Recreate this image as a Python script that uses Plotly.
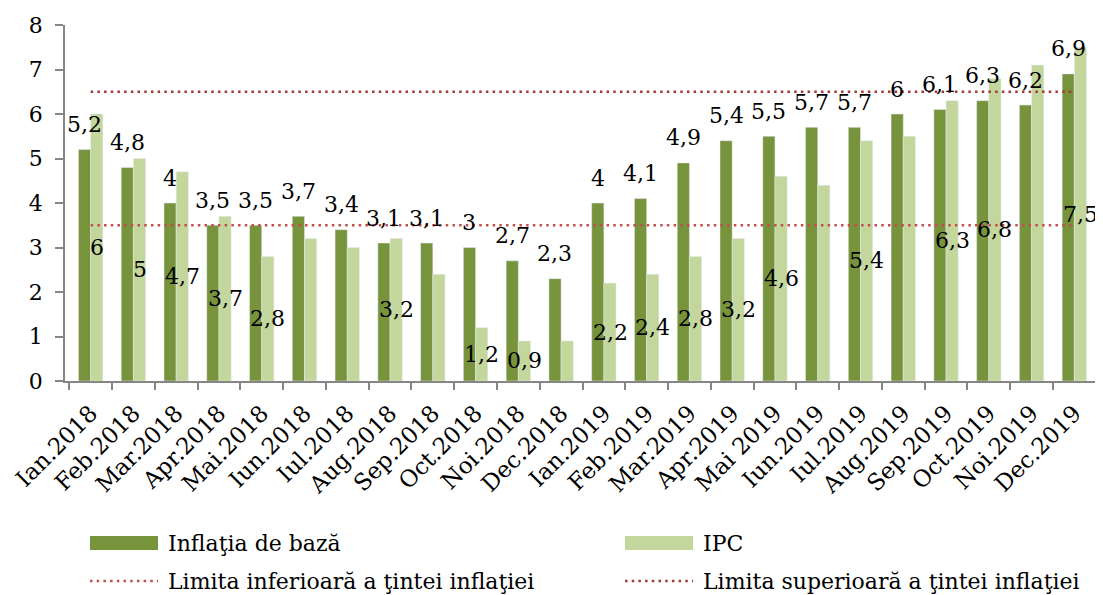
import plotly.graph_objects as go

categories = ["Ian.2018", "Feb.2018", "Mar.2018", "Apr.2018", "Mai.2018", "Iun.2018",
              "Iul.2018", "Aug.2018", "Sep.2018", "Oct.2018", "Noi.2018", "Dec.2018",
              "Ian.2019", "Feb.2019", "Mar.2019", "Apr.2019", "Mai 2019", "Iun.2019",
              "Iul.2019", "Aug.2019", "Sep.2019", "Oct.2019", "Noi.2019", "Dec.2019"]
inflatia_baza = [5.2, 4.8, 4.0, 3.5, 3.5, 3.7, 3.4, 3.1, 3.1, 3.0, 2.7, 2.3,
                 4.0, 4.1, 4.9, 5.4, 5.5, 5.7, 5.7, 6.0, 6.1, 6.3, 6.2, 6.9]
ipc = [6.0, 5.0, 4.7, 3.7, 2.8, 3.2, 3.0, 3.2, 2.4, 1.2, 0.9, 0.9,
       2.2, 2.4, 2.8, 3.2, 4.6, 4.4, 5.4, 5.5, 6.3, 6.8, 7.1, 7.5]
ipc_label_shown = [True, True, True, True, True, False, False, True, False, True, True, False,
                   True, True, True, True, True, False, True, False, True, True, False, True]
limita_inferioara = 3.5
limita_superioara = 6.5

names = ["Inflaţia de bază", "IPC", "Limita inferioară a ţintei inflaţiei",
         "Limita superioară a ţintei inflaţiei"]

DARK = "#77933C"
LIGHT = "#C3D69B"
RED_LOW = "#C0504D"
RED_HIGH = "#A23B38"
FONT = "DejaVu Serif"

# page body has an 8px margin: the figure starts at (8, 8) in the window
OFF = 8
W, H = 1103 - OFF, 595 - OFF
L, R, T, B = 65 - OFF, 3, 25 - OFF, 214
PW, PH = W - L - R, H - T - B


def fmt(v):
    s = ("%.1f" % v).rstrip("0").rstrip(".")
    return s.replace(".", ",")


fig = go.Figure()
fig.add_trace(go.Bar(x=categories, y=inflatia_baza, name=names[0], marker_color=DARK,
                     showlegend=False))
fig.add_trace(go.Bar(x=categories, y=ipc, name=names[1], marker_color=LIGHT,
                     showlegend=False))
fig.add_trace(go.Scatter(x=categories, y=[limita_inferioara] * len(categories), name=names[2],
                         mode="lines", line=dict(color=RED_LOW, width=2.5, dash="2.5px,4.2px"),
                         showlegend=False))
fig.add_trace(go.Scatter(x=categories, y=[limita_superioara] * len(categories), name=names[3],
                         mode="lines", line=dict(color=RED_HIGH, width=2.5, dash="2.5px,4.2px"),
                         showlegend=False))

bar_px = PW / len(categories) * (1 - 0.43) / 2
annotations = []
for c, v in zip(categories, inflatia_baza):
    annotations.append(dict(x=c, y=v, text=fmt(v), showarrow=False, xshift=-bar_px / 2,
                            yshift=25, yanchor="middle",
                            font=dict(family=FONT, size=22, color="#000000")))
for c, v, show in zip(categories, ipc, ipc_label_shown):
    if show:
        annotations.append(dict(x=c, y=v / 2, text=fmt(v), showarrow=False, xshift=bar_px / 2,
                                yanchor="middle",
                                font=dict(family=FONT, size=22, color="#000000")))


def px(x):
    return (x - OFF - L) / PW


def py(y):
    return (H - B - (y - OFF)) / PH


shapes = []
legend_items = [
    (90, 543, "rect", DARK, names[0]),
    (625, 543, "rect", LIGHT, names[1]),
    (90, 581, "line", RED_LOW, names[2]),
    (625, 581, "line", RED_HIGH, names[3]),
]
for x0, yc, kind, col, label in legend_items:
    if kind == "rect":
        shapes.append(dict(type="rect", xref="paper", yref="paper", x0=px(x0), x1=px(x0 + 68),
                           y0=py(yc - 7), y1=py(yc + 7), fillcolor=col, line=dict(width=0)))
    else:
        shapes.append(dict(type="line", xref="paper", yref="paper", x0=px(x0), x1=px(x0 + 68),
                           y0=py(yc), y1=py(yc),
                           line=dict(color=col, width=2.5, dash="2.5px,4.2px")))
    annotations.append(dict(xref="paper", yref="paper", x=px(x0 + 76), y=py(yc), text=label,
                            showarrow=False, xanchor="left", yanchor="middle",
                            font=dict(family=FONT, size=22, color="#000000")))

fig.update_layout(
    width=W, height=H,
    margin=dict(l=L, r=R, t=T, b=B, autoexpand=False),
    barmode="group", bargap=0.43, bargroupgap=0,
    plot_bgcolor="white", paper_bgcolor="white",
    font=dict(family=FONT, size=22, color="#000000"),
    showlegend=False,
    annotations=annotations,
    shapes=shapes,
    xaxis=dict(type="category", tickangle=-45, tickson="boundaries", ticks="outside",
               ticklen=7, tickcolor="#868686", tickwidth=1.5, ticklabelstandoff=8,
               showline=True, linecolor="#868686", linewidth=1.5, showgrid=False,
               automargin=False,
               tickfont=dict(family=FONT, size=23, color="#000000")),
    yaxis=dict(range=[0, 8], dtick=1, ticks="outside", ticklen=8, tickcolor="#868686",
               tickwidth=1.5, showline=True, linecolor="#868686", linewidth=1.5,
               showgrid=False, zeroline=False, automargin=False, ticklabelstandoff=8,
               tickfont=dict(family=FONT, size=22, color="#000000")),
)

fig.write_html("out.html")
